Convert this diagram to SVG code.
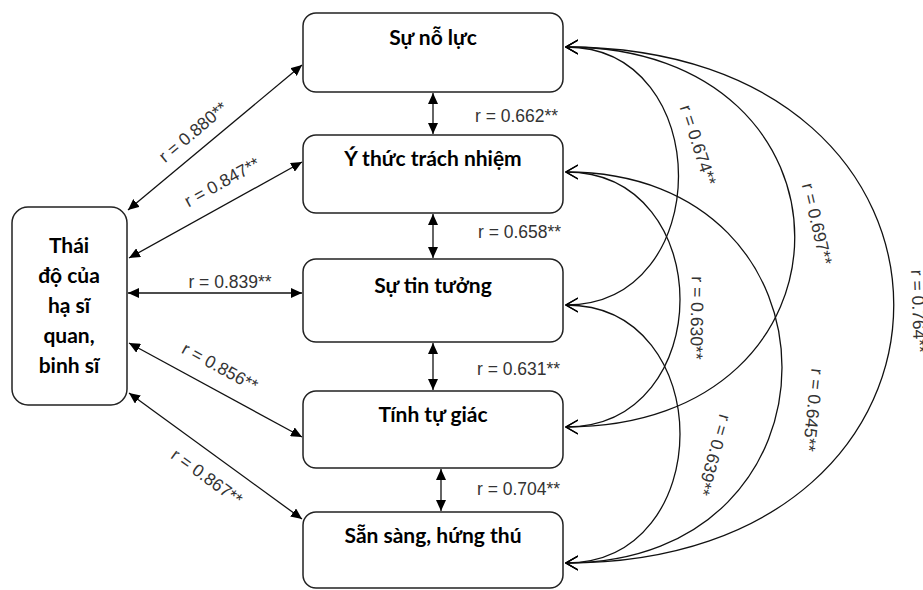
<svg xmlns="http://www.w3.org/2000/svg" width="923" height="590" viewBox="0 0 923 590">
<style>
.box{fill:#fff;stroke:#222;stroke-width:1.5}
.t{font-family:Lato,"Open Sans","Noto Sans",sans-serif;font-weight:bold;font-size:21px;fill:#000;text-anchor:middle}
.lab{font-family:"Liberation Sans",Arial,sans-serif;font-size:17.5px;fill:#333}
.c{fill:none;stroke:#111;stroke-width:1.3}
.fa{marker-start:url(#fa);marker-end:url(#fa)}
.oa{marker-start:url(#oa);marker-end:url(#oa)}
</style>
<defs>
<marker id="fa" viewBox="0 0 11 10" refX="11" refY="5" markerWidth="11" markerHeight="10" markerUnits="userSpaceOnUse" orient="auto-start-reverse"><path d="M0,0 L11,5 L0,10 z" fill="#000"/></marker>
<marker id="oa" viewBox="0 0 13 16" refX="12" refY="8" markerWidth="13" markerHeight="16" markerUnits="userSpaceOnUse" orient="auto-start-reverse"><path d="M0,1 L12,8 L0,15" fill="none" stroke="#000" stroke-width="1.3"/></marker>
</defs>
<rect width="923" height="590" fill="#fff"/>
<g id="connectors">
<path class="c fa" d="M128,210 L302,65"/>
<path class="c fa" d="M129,258 L302,162"/>
<path class="c fa" d="M128,293 L302,293"/>
<path class="c fa" d="M129,343 L302,437"/>
<path class="c fa" d="M129,393 L302,519"/>
<path class="c fa" d="M433,93 L433,134"/>
<path class="c fa" d="M433,214 L433,258"/>
<path class="c fa" d="M433,343 L433,390"/>
<path class="c fa" d="M441,469 L441,511"/>
<path class="c oa" d="M566,47 C716,47 716,305 566,305"/>
<path class="c oa" d="M566,47 C871,47 871,427 566,427"/>
<path class="c oa" d="M566,47 C1003,47 1003,563 566,563"/>
<path class="c oa" d="M566,172 C718,172 718,427 566,427"/>
<path class="c oa" d="M566,172 C854,172 854,563 566,563"/>
<path class="c oa" d="M566,305 C718,305 718,563 566,563"/>
<text class="lab" text-anchor="middle" transform="translate(193,132) rotate(-40)" y="6">r = 0.880**</text>
<text class="lab" text-anchor="middle" transform="translate(222,182) rotate(-29)" y="6">r = 0.847**</text>
<text class="lab" text-anchor="middle" x="230" y="288">r = 0.839**</text>
<text class="lab" text-anchor="middle" transform="translate(220,367) rotate(28.5)" y="6">r = 0.856**</text>
<text class="lab" text-anchor="middle" transform="translate(207,477) rotate(36)" y="6">r = 0.867**</text>
<text class="lab" x="475" y="122">r = 0.662**</text>
<text class="lab" x="478" y="238">r = 0.658**</text>
<text class="lab" x="477" y="375">r = 0.631**</text>
<text class="lab" x="477" y="495">r = 0.704**</text>
<text class="lab" text-anchor="middle" transform="translate(698,145) rotate(72)" y="6">r = 0.674**</text>
<text class="lab" text-anchor="middle" transform="translate(817,224) rotate(77)" y="6">r = 0.697**</text>
<text class="lab" text-anchor="middle" transform="translate(697,318) rotate(91)" y="6">r = 0.630**</text>
<text class="lab" text-anchor="middle" transform="translate(813,410) rotate(96)" y="6">r = 0.645**</text>
<text class="lab" text-anchor="middle" transform="translate(714,455) rotate(106)" y="6">r = 0.639**</text>
<text class="lab" transform="translate(911,270) rotate(88)">r = 0.764**</text>
</g>
<g id="n0"><rect class="box" x="12" y="207" width="115" height="198" rx="16"/>
<text class="t"><tspan x="69" y="253">Thái</tspan><tspan x="69" y="283">độ của</tspan><tspan x="69" y="313">hạ sĩ</tspan><tspan x="69" y="343">quan,</tspan><tspan x="69" y="373">binh sĩ</tspan></text></g>
<g id="n1"><rect class="box" x="303" y="13" width="260" height="79" rx="13"/><text class="t" x="433" y="45">Sự nỗ lực</text></g>
<g id="n2"><rect class="box" x="303" y="135" width="260" height="78" rx="13"/><text class="t" x="433" y="166">Ý thức trách nhiệm</text></g>
<g id="n3"><rect class="box" x="303" y="259" width="260" height="83" rx="13"/><text class="t" x="433" y="293">Sự tin tưởng</text></g>
<g id="n4"><rect class="box" x="303" y="391" width="260" height="77" rx="13"/><text class="t" x="433" y="422">Tính tự giác</text></g>
<g id="n5"><rect class="box" x="303" y="512" width="260" height="76" rx="13"/><text class="t" x="433" y="543">Sẵn sàng, hứng thú</text></g>
</svg>
